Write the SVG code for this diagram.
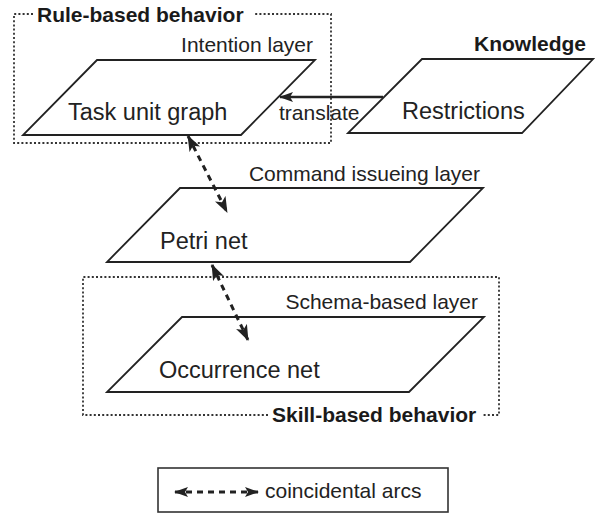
<svg xmlns="http://www.w3.org/2000/svg" width="595" height="515" viewBox="0 0 595 515">
  <style>
    .layer { fill: #ffffff; stroke: #222; stroke-width: 1.8; stroke-linejoin: miter; }
    .group { fill: none; stroke: #333; stroke-width: 1.8; stroke-dasharray: 2 2.2; }
    .name { font-family: "Liberation Sans", Arial, sans-serif; font-size: 23.5px; fill: #222; }
    .cap { font-family: "Liberation Sans", Arial, sans-serif; font-size: 21px; fill: #222; }
    .title { font-family: "Liberation Sans", Arial, sans-serif; font-size: 21px; font-weight: bold; fill: #1a1a1a; }
    .arc { fill: none; stroke: #222; stroke-width: 3; stroke-dasharray: 6 5; }
    .solid { fill: none; stroke: #222; stroke-width: 2.4; }
  </style>
  <defs>
    <marker id="head" viewBox="0 0 14 10" refX="13" refY="5" markerWidth="14" markerHeight="10" markerUnits="userSpaceOnUse" orient="auto-start-reverse">
      <path d="M0,0 L14,5 L0,10 L3,5 z" fill="#222"/>
    </marker>
    <marker id="arc-head" viewBox="0 0 16 12" refX="15" refY="6" markerWidth="16" markerHeight="12" markerUnits="userSpaceOnUse" orient="auto-start-reverse">
      <path d="M0,0 L16,6 L0,12 L4,6 z" fill="#222"/>
    </marker>
  </defs>
  <rect width="595" height="515" fill="#ffffff"/>

  <!-- behaviour groupings -->
  <g id="rule-based">
    <path class="group" d="M33,14 H14 V143 H331 V14 H253"/>
    <text class="title" x="37" y="22">Rule-based behavior</text>
  </g>
  <g id="skill-based">
    <path class="group" d="M268,415 H83 V277 H499 V415 H483"/>
    <text class="title" x="272" y="422">Skill-based behavior</text>
  </g>

  <!-- layers -->
  <g id="task-unit-graph">
    <polygon class="layer" points="97,60 315,60 241,135 23,135"/>
    <text class="cap" x="313" y="52" text-anchor="end">Intention layer</text>
    <text class="name" x="68" y="120">Task unit graph</text>
  </g>
  <g id="restrictions">
    <polygon class="layer" points="422,59 593,59 522,133 348,133"/>
    <text class="title" x="586" y="51" text-anchor="end">Knowledge</text>
    <text class="name" x="402" y="119">Restrictions</text>
  </g>
  <g id="petri-net">
    <polygon class="layer" points="180,188 483,188 410,262 107,262"/>
    <text class="cap" x="480" y="181" text-anchor="end">Command issueing layer</text>
    <text class="name" x="160" y="249">Petri net</text>
  </g>
  <g id="occurrence-net">
    <polygon class="layer" points="182,317 484,317 409,392 107,392"/>
    <text class="cap" x="478" y="309" text-anchor="end">Schema-based layer</text>
    <text class="name" x="159" y="378">Occurrence net</text>
  </g>

  <!-- connectors -->
  <g id="connectors">
    <line class="solid" x1="383" y1="97" x2="280" y2="97" marker-end="url(#head)"/>
    <text class="cap" x="279" y="120">translate</text>
    <line class="arc" x1="188" y1="136" x2="227" y2="212" marker-start="url(#arc-head)" marker-end="url(#arc-head)"/>
    <line class="arc" x1="212" y1="265" x2="248" y2="340" marker-start="url(#arc-head)" marker-end="url(#arc-head)"/>
  </g>

  <!-- legend -->
  <g id="legend">
    <rect x="158" y="468" width="290" height="44" fill="none" stroke="#333" stroke-width="1.6"/>
    <line class="arc" x1="175" y1="492" x2="258" y2="492" stroke-dasharray="5 6" marker-start="url(#head)" marker-end="url(#head)"/>
    <text class="cap" x="265" y="498">coincidental arcs</text>
  </g>
</svg>
